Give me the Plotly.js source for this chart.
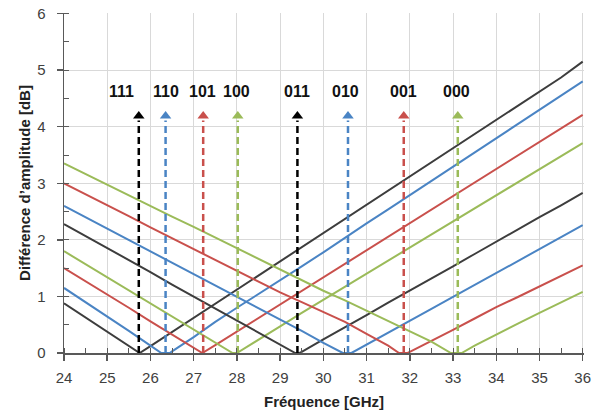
<!DOCTYPE html>
<html>
<head>
<meta charset="utf-8">
<script src="https://cdn.plot.ly/plotly-3.0.1.min.js"></script>
<style>html,body{margin:0;padding:0;background:#fff}#chart{width:592px;height:418px}</style>
</head>
<body>
<div id="chart"></div>
<script>
// ---- Data ----
var codes = ['111', '110', '101', '100', '011', '010', '001', '000'];
var freqTicks = [24, 25, 26, 27, 28, 29, 30, 31, 32, 33, 34, 35, 36];
var ampTicks = [0, 1, 2, 3, 4, 5, 6];

var f111 = [24, 24.5, 25, 25.5, 25.75, 26, 26.5, 27, 27.5, 28, 28.5, 29, 29.5, 30, 30.5, 31, 31.5, 32, 32.5, 33, 33.5, 34, 34.5, 35, 35.5, 36];
var a111 = [0.88, 0.63, 0.38, 0.13, 0.0, 0.12, 0.37, 0.62, 0.87, 1.12, 1.37, 1.62, 1.87, 2.12, 2.37, 2.62, 2.87, 3.12, 3.37, 3.62, 3.87, 4.12, 4.37, 4.62, 4.87, 5.15];

var f110 = [24, 24.5, 25, 25.5, 26, 26.25, 26.45, 26.5, 27, 27.5, 28, 28.5, 29, 29.5, 30, 30.5, 31, 31.5, 32, 32.5, 33, 33.5, 34, 34.5, 35, 35.5, 36];
var a110 = [1.15, 0.90, 0.64, 0.39, 0.13, 0.0, 0.0, 0.03, 0.28, 0.55, 0.80, 1.04, 1.28, 1.53, 1.78, 2.04, 2.29, 2.54, 2.79, 3.04, 3.29, 3.54, 3.79, 4.04, 4.29, 4.54, 4.80];

var f101 = [24, 24.5, 25, 25.5, 26, 26.5, 27, 27.2, 27.5, 28, 28.5, 29, 29.5, 30, 30.5, 31, 31.5, 32, 32.5, 33, 33.5, 34, 34.5, 35, 35.5, 36];
var a101 = [1.50, 1.27, 1.03, 0.80, 0.56, 0.33, 0.09, 0.0, 0.14, 0.38, 0.62, 0.86, 1.10, 1.34, 1.58, 1.82, 2.06, 2.29, 2.53, 2.77, 3.01, 3.25, 3.49, 3.73, 3.97, 4.21];

var f100 = [24, 24.5, 25, 25.5, 26, 26.5, 27, 27.5, 27.9, 28.0, 28.5, 29, 29.5, 30, 30.5, 31, 31.5, 32, 32.5, 33, 33.5, 34, 34.5, 35, 35.5, 36];
var a100 = [1.80, 1.57, 1.34, 1.11, 0.88, 0.64, 0.41, 0.18, 0.0, 0.0, 0.23, 0.47, 0.71, 0.94, 1.17, 1.40, 1.63, 1.86, 2.09, 2.32, 2.55, 2.78, 3.02, 3.25, 3.48, 3.71];

var f011 = [24, 24.5, 25, 25.5, 26, 26.5, 27, 27.5, 28, 28.5, 29, 29.35, 29.45, 29.5, 30, 30.5, 31, 31.5, 32, 32.5, 33, 33.5, 34, 34.5, 35, 35.5, 36];
var a011 = [2.28, 2.07, 1.85, 1.64, 1.43, 1.21, 1.00, 0.79, 0.58, 0.36, 0.15, 0.0, 0.0, 0.02, 0.24, 0.45, 0.67, 0.89, 1.10, 1.32, 1.53, 1.75, 1.97, 2.18, 2.40, 2.61, 2.83];

var f010 = [24, 24.5, 25, 25.5, 26, 26.5, 27, 27.5, 28, 28.5, 29, 29.5, 30, 30.45, 30.65, 31, 31.5, 32, 32.5, 33, 33.5, 34, 34.5, 35, 35.5, 36];
var a010 = [2.60, 2.40, 2.20, 2.00, 1.79, 1.59, 1.39, 1.19, 1.00, 0.80, 0.60, 0.39, 0.18, 0.0, 0.0, 0.15, 0.36, 0.57, 0.78, 0.99, 1.20, 1.41, 1.63, 1.84, 2.05, 2.26];

var f001 = [24, 24.5, 25, 25.5, 26, 26.5, 27, 27.5, 28, 28.5, 29, 29.5, 30, 30.5, 31, 31.5, 31.75, 31.95, 32, 32.5, 33, 33.5, 34, 34.5, 35, 35.5, 36];
var a001 = [3.00, 2.81, 2.61, 2.42, 2.22, 2.03, 1.83, 1.64, 1.46, 1.27, 1.07, 0.90, 0.73, 0.55, 0.34, 0.13, 0.0, 0.0, 0.02, 0.21, 0.41, 0.61, 0.81, 0.99, 1.18, 1.37, 1.55];

var f000 = [24, 24.5, 25, 25.5, 26, 26.5, 27, 27.5, 28, 28.5, 29, 29.5, 30, 30.5, 31, 31.5, 32, 32.5, 32.95, 33.2, 33.5, 34, 34.5, 35, 35.5, 36];
var a000 = [3.35, 3.16, 2.98, 2.79, 2.60, 2.41, 2.23, 2.04, 1.85, 1.66, 1.47, 1.28, 1.10, 0.93, 0.75, 0.57, 0.39, 0.20, 0.0, 0.0, 0.13, 0.33, 0.52, 0.71, 0.90, 1.08];

var arrowFreqs = [25.73, 26.35, 27.22, 28.02, 29.4, 30.57, 31.86, 33.11];
var labelFreqs = [25.32, 26.36, 27.2, 28.0, 29.39, 30.52, 31.85, 33.09];
var arrowBase = 0;
var arrowTop = 4.19;
var labelLevel = 4.62;

// ---- Styling ----
var cBlack = '#3d3d3d', cBlue = '#4a84c4', cRed = '#c9504c', cGreen = '#9bbb59';
var curveColors = [cBlack, cBlue, cRed, cGreen, cBlack, cBlue, cRed, cGreen];
var arrowColors = ['#000000', cBlue, cRed, cGreen, '#000000', cBlue, cRed, cGreen];
var freqs = [f111, f110, f101, f100, f011, f010, f001, f000];
var amps = [a111, a110, a101, a100, a011, a010, a001, a000];

var traces = [];
for (var i = 0; i < codes.length; i++) {
  traces.push({
    x: freqs[i], y: amps[i], type: 'scatter', mode: 'lines',
    line: {color: curveColors[i], width: 2}, name: codes[i], hoverinfo: 'skip', cliponaxis: false
  });
}
for (var j = 0; j < codes.length; j++) {
  traces.push({
    x: [arrowFreqs[j], arrowFreqs[j]], y: [arrowBase, arrowTop - 0.08],
    type: 'scatter', mode: 'lines',
    line: {color: arrowColors[j], width: 2.5, dash: '7px,4px'}, hoverinfo: 'skip'
  });
  traces.push({
    x: [arrowFreqs[j]], y: [arrowTop], type: 'scatter', mode: 'markers',
    marker: {symbol: 'triangle-up', size: 10, color: arrowColors[j]}, hoverinfo: 'skip'
  });
}

var fontFam = 'Liberation Sans, Arial, sans-serif';
var annotations = [];
for (var k = 0; k < codes.length; k++) {
  annotations.push({
    x: labelFreqs[k], y: labelLevel, xref: 'x', yref: 'y', text: '<b>' + codes[k] + '</b>',
    showarrow: false, font: {family: fontFam, size: 16, color: '#111'}
  });
}

var layout = {
  width: 592, height: 418,
  margin: {l: 64, r: 8, t: 13, b: 65},
  paper_bgcolor: '#fff', plot_bgcolor: '#fff',
  showlegend: false,
  font: {family: fontFam, size: 14, color: '#404040'},
  xaxis: {
    range: [24, 36.03], tickmode: 'array', tickvals: freqTicks, ticktext: freqTicks.map(String),
    ticklabeloverflow: 'allow',
    showgrid: true, gridcolor: '#d9d9d9', gridwidth: 1,
    showline: true, linecolor: '#595959', linewidth: 1.5,
    ticks: 'outside', ticklen: 6, tickcolor: '#595959', tickwidth: 1.5,
    minor: {dtick: 0.5, tick0: 24, ticks: 'inside', ticklen: 5, tickcolor: '#595959', tickwidth: 1, showgrid: false},
    zeroline: false, ticklabelstandoff: 4,
    tickfont: {family: fontFam, size: 15, color: '#404040'},
    title: {text: '<b>Fréquence [GHz]</b>', font: {family: fontFam, size: 15, color: '#222'}, standoff: 12}
  },
  yaxis: {
    range: [0, 6.01], tickmode: 'array', tickvals: ampTicks, ticktext: ampTicks.map(String),
    showgrid: true, gridcolor: '#d9d9d9', gridwidth: 1,
    showline: true, linecolor: '#595959', linewidth: 1.5,
    ticks: 'outside', ticklen: 6, tickcolor: '#595959', tickwidth: 1.5,
    minor: {dtick: 0.5, tick0: 0, ticks: 'inside', ticklen: 5, tickcolor: '#595959', tickwidth: 1, showgrid: false},
    zeroline: false, ticklabelstandoff: 8,
    tickfont: {family: fontFam, size: 15, color: '#404040'},
    title: {text: '<b>Différence d’amplitude [dB]</b>', font: {family: fontFam, size: 15, color: '#222'}, standoff: 3}
  },
  annotations: annotations
};

Plotly.newPlot('chart', traces, layout, {displayModeBar: false, staticPlot: true});
</script>
</body>
</html>
